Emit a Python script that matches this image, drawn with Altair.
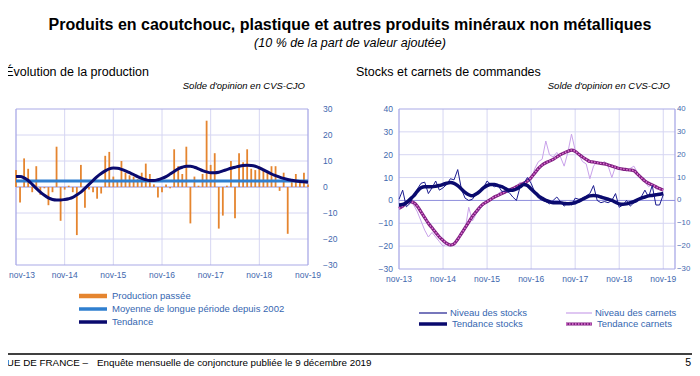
import altair as alt
import pandas as pd

# ---------------- data ----------------
months = list(range(73))  # nov-13 ... nov-19
x_labels = ["nov-13", "nov-14", "nov-15", "nov-16", "nov-17", "nov-18", "nov-19"]
x_label_months = [0, 12, 24, 36, 48, 60, 72]

left_ticks = [-30, -20, -10, 0, 10, 20, 30]
right_ticks = [-30, -20, -10, 0, 10, 20, 30, 40]

production = [6.5, -6, 11, 7, -2, 8, -3, -0.5, -7, -2, 15.5, -13, -1, 0.5, -2, -18.5,
              8.5, -8, -1, -2, -4.5, -2.5, 12, 13.5, 4, 2, 10, 5.5, 4.5, 4, 3, 5.5,
              9, 5, 1, -4, -2, 1, -0.5, 14.5, 8, 5, 15.5, -14, 4, 0.5, 5, 25.5,
              8.5, 13, -16, -11, 0.5, 10, -12, 13, 9.5, 14.5, 7, 6.5, 8, 7,
              6, 8, 8, -1.5, 5.5, -18, 2, 5, 2, 5.5, 1]
tendance_prod = [4, 4, 3.5, 2.5, 1, -0.5, -2, -3.2, -4.2, -4.8, -5, -5, -4.8, -4.5, -4, -3,
                 -2, -0.5, 1, 2.5, 4, 5.2, 6.2, 7, 7.3, 7.2, 6.8, 6.2, 5.5, 4.8, 4, 3.3,
                 2.8, 2.5, 2.5, 2.8, 3.3, 4, 5, 6, 7, 7.6, 8, 8, 7.6, 7, 6.3, 5.8,
                 5.5, 5.5, 5.7, 6.2, 6.7, 7.2, 7.6, 8, 8.3, 8.4, 8.3, 8, 7.4, 6.6,
                 5.8, 5, 4.4, 3.8, 3.3, 2.9, 2.6, 2.3, 2.1, 2, 1.8]
moyenne_longue = 2.3

niveau_stocks = [0.5, 4.5, -2.8, -1.3, 2, 5, 7.5, 8, 3, 5.5, 8.5, 4.5, 5.5, 7, 9.5, 9,
                 13.5, 5, 1, 0, 0.5, 3, 4, 5.5, 8.5, 7, 6, 6.5, 4, 4, 3.5, 1.5,
                 0, 6, 7.5, 10, 7.5, 3.5, 1, 0, -0.5, -1.5, 0, 1.5, -0.5, -2.5, -1, -2,
                 1, 0.5, 0.5, 2, 3, 6.5, 0, -1, -0.5, -1, 0, 3, -3, -2, 0, -2.5,
                 -1, -0.5, 1.5, 4.5, 1.5, 6.5, -2, -2, 2.5]
tendance_stocks = [-2, -1.8, -1, 0.5, 2, 4, 5.5, 6, 6, 6, 6.2, 6.5, 7, 7.5, 7.8, 7.5,
                   6.5, 5, 3.5, 2.5, 2, 2.8, 4, 5.5, 6.5, 7, 7, 6.5, 6, 5.2, 4.5, 4.5,
                   5, 6, 7, 6.5, 5, 3.5, 2, 1, 0, -0.5, -1, -1, -1, -1.3, -1.5, -1.3,
                   -1, -0.3, 0.5, 1.3, 2, 2.2, 2, 1.5, 1, 0.5, 0, -0.8, -1.5, -1.7,
                   -1.5, -1, -0.5, 0.3, 1, 1.5, 2, 2.2, 2.5, 2.7, 3]
niveau_carnets = [-4, -2.5, -1, -0.5, -2, -5, -9, -13, -16, -14, -16, -18, -20, -19, -20, -19.5,
                  -17, -14, -13, -3, -9, -6, -4, -2, 0, 1, 1, 3, 4, 3, 5, 4,
                  6, 8, 7, 10, 9, 14, 17, 18, 26, 20, 19, 21, 19, 15, 21, 29,
                  22, 20, 17, 16, 9.5, 15, 17, 16, 17, 15, 10, 15, 14, 13.5,
                  13, 14, 15, 12, 10, 8, 6, 7, 5, 5, 4]
tendance_carnets = [-3.5, -2.5, -1, -0.5, -1, -2.5, -5, -7.5, -10, -12, -14, -16, -17.5, -18.8, -19.5, -19,
                    -17, -14.5, -12, -9.5, -7, -5, -3, -1.5, -0.5, 0.5, 1.5, 2.2, 3, 3.8, 4.5, 5.2,
                    6, 6.8, 7.5, 8.5, 10, 12, 14, 15.5, 16.5, 17.2, 18, 19, 20, 20.8, 21.5, 22,
                    21.5, 20.2, 19, 18, 17, 16.8, 16.5, 16.2, 16, 15.5, 15, 14.5, 14, 13.7,
                    13.5, 13.3, 13, 11.5, 10, 8.5, 7.5, 6.8, 6, 5.2, 4.5]

# ---------------- styling ----------------
FONT = "Liberation Sans"
GRID = "#D6D6F2"
BORDER = "#A9A9E6"
ZERO = "#8E8EDC"
AXTXT = "#3F68AE"
ORANGE = "#E5852F"
MEANBLUE = "#2F7FCF"
NAVY = "#0A0A6E"
LILAC = "#C9A2EA"
PURPLE = "#7E1F80"
PINK = "#E27AD6"

LX = alt.Scale(domain=[0, 72], range=[8, 300], nice=False, zero=False)
LY = alt.Scale(domain=[-30, 30], range=[257, 101], nice=False, zero=False)
RX = alt.Scale(domain=[0, 75.2], range=[391, 667], nice=False, zero=False)
RY = alt.Scale(domain=[-30, 40], range=[261, 101], nice=False, zero=False)

left_df = pd.DataFrame({"m": months, "prod": production, "trend": tendance_prod,
                        "zero": [0] * len(months)})
right_df = pd.DataFrame({"m": months, "ns": niveau_stocks, "ts": tendance_stocks,
                         "nc": niveau_carnets, "tc": tendance_carnets})


def hgrid(ticks, x0, x1):
    return pd.DataFrame({"v": ticks, "x0": [x0] * len(ticks), "x1": [x1] * len(ticks)})


def vgrid(ms, y0, y1):
    return pd.DataFrame({"m": ms, "y0": [y0] * len(ms), "y1": [y1] * len(ms)})


def txt(s, x, y, size, align="left", color="black", weight="normal", style="normal"):
    return alt.Chart(pd.DataFrame({"t": [s]})).mark_text(
        align=align, baseline="middle", font=FONT, fontSize=size, color=color,
        fontWeight=weight, fontStyle=style
    ).encode(text="t:N", x=alt.value(x), y=alt.value(y))


def swatch(x0, x1, y, color, width, dash=None):
    kw = dict(color=color, strokeWidth=width)
    if dash:
        kw["strokeDash"] = dash
    return alt.Chart(pd.DataFrame({"a": [0]})).mark_rule(**kw).encode(
        x=alt.value(x0), x2=alt.value(x1), y=alt.value(y))


# ---------------- left panel ----------------
lx = lambda f: alt.X(f, scale=LX, axis=None)
ly = lambda f: alt.Y(f, scale=LY, axis=None)

l_hgrid = alt.Chart(hgrid([-20, -10, 10, 20], 0, 72)).mark_rule(color=GRID, strokeWidth=1).encode(
    y=ly("v:Q"), x=lx("x0:Q"), x2="x1:Q")
l_vgrid = alt.Chart(vgrid([12, 24, 36, 48, 60], -30, 30)).mark_rule(color=GRID, strokeWidth=1).encode(
    x=lx("m:Q"), y=ly("y0:Q"), y2="y1:Q")
l_border_h = alt.Chart(hgrid([-30, 30], 0, 72)).mark_rule(color=BORDER, strokeWidth=1).encode(
    y=ly("v:Q"), x=lx("x0:Q"), x2="x1:Q")
l_border_v = alt.Chart(vgrid([0, 72], -30, 30)).mark_rule(color=BORDER, strokeWidth=1.3).encode(
    x=lx("m:Q"), y=ly("y0:Q"), y2="y1:Q")
l_zero = alt.Chart(hgrid([0], 0, 72)).mark_rule(color=ZERO, strokeWidth=1).encode(
    y=ly("v:Q"), x=lx("x0:Q"), x2="x1:Q")
l_bars = alt.Chart(left_df).mark_rule(color=ORANGE, strokeWidth=1.8).encode(
    x=lx("m:Q"), y=ly("prod:Q"), y2="zero:Q")
l_mean = alt.Chart(hgrid([moyenne_longue], 0, 72)).mark_rule(color=MEANBLUE, strokeWidth=3).encode(
    y=ly("v:Q"), x=lx("x0:Q"), x2="x1:Q")
l_trend = alt.Chart(left_df).mark_line(color=NAVY, strokeWidth=3, interpolate="monotone").encode(
    x=lx("m:Q"), y=ly("trend:Q"))
l_xlab_first = alt.Chart(pd.DataFrame({"m": x_label_months[:1], "t": x_labels[:1]})).mark_text(
    font=FONT, fontSize=8.5, color=AXTXT, baseline="middle", align="left", dx=-7).encode(
    x=lx("m:Q"), y=alt.value(267), text="t:N")
l_xlab = alt.Chart(pd.DataFrame({"m": x_label_months[1:], "t": x_labels[1:]})).mark_text(
    font=FONT, fontSize=8.5, color=AXTXT, baseline="middle").encode(
    x=lx("m:Q"), y=alt.value(267), text="t:N")
l_rlab = alt.Chart(pd.DataFrame({"v": left_ticks})).mark_text(
    font=FONT, fontSize=8.5, color=AXTXT, baseline="middle", align="left").encode(
    y=ly("v:Q"), x=alt.value(315), text="v:Q")

left = alt.layer(l_hgrid, l_vgrid, l_border_h, l_border_v, l_zero, l_bars, l_mean,
                 l_trend, l_xlab_first, l_xlab, l_rlab)

# ---------------- right panel ----------------
rx = lambda f: alt.X(f, scale=RX, axis=None)
ry = lambda f: alt.Y(f, scale=RY, axis=None)

r_hgrid = alt.Chart(hgrid([-20, -10, 10, 20, 30], 0, 75.2)).mark_rule(color=GRID, strokeWidth=1).encode(
    y=ry("v:Q"), x=rx("x0:Q"), x2="x1:Q")
r_vgrid = alt.Chart(vgrid([12, 24, 36, 48, 60, 72], -30, 40)).mark_rule(color=GRID, strokeWidth=1).encode(
    x=rx("m:Q"), y=ry("y0:Q"), y2="y1:Q")
r_border_h = alt.Chart(hgrid([-30, 40], 0, 75.2)).mark_rule(color=BORDER, strokeWidth=1).encode(
    y=ry("v:Q"), x=rx("x0:Q"), x2="x1:Q")
r_border_v = alt.Chart(vgrid([0, 75.2], -30, 40)).mark_rule(color=BORDER, strokeWidth=1.3).encode(
    x=rx("m:Q"), y=ry("y0:Q"), y2="y1:Q")
r_zero = alt.Chart(hgrid([0], 0, 75.2)).mark_rule(color=ZERO, strokeWidth=1).encode(
    y=ry("v:Q"), x=rx("x0:Q"), x2="x1:Q")
r_nc = alt.Chart(right_df).mark_line(color=LILAC, strokeWidth=1).encode(x=rx("m:Q"), y=ry("nc:Q"))
r_tc = alt.Chart(right_df).mark_line(color=PURPLE, strokeWidth=3.2, interpolate="monotone").encode(
    x=rx("m:Q"), y=ry("tc:Q"))
r_tc2 = alt.Chart(right_df).mark_line(color=PINK, strokeWidth=1.4, strokeDash=[1.5, 1.5],
                                      interpolate="monotone").encode(x=rx("m:Q"), y=ry("tc:Q"))
r_ns = alt.Chart(right_df).mark_line(color="#1B1B8F", strokeWidth=1).encode(x=rx("m:Q"), y=ry("ns:Q"))
r_ts = alt.Chart(right_df).mark_line(color=NAVY, strokeWidth=3.5, interpolate="monotone").encode(
    x=rx("m:Q"), y=ry("ts:Q"))
r_xlab = alt.Chart(pd.DataFrame({"m": x_label_months, "t": x_labels})).mark_text(
    font=FONT, fontSize=8.5, color=AXTXT, baseline="middle").encode(
    x=rx("m:Q"), y=alt.value(271), text="t:N")
r_llab = alt.Chart(pd.DataFrame({"v": right_ticks})).mark_text(
    font=FONT, fontSize=8.5, color=AXTXT, baseline="middle", align="right").encode(
    y=ry("v:Q"), x=alt.value(385), text="v:Q")
r_rlab = alt.Chart(pd.DataFrame({"v": right_ticks})).mark_text(
    font=FONT, fontSize=7.8, color=AXTXT, baseline="middle", align="left").encode(
    y=ry("v:Q"), x=alt.value(669), text="v:Q")

right = alt.layer(r_hgrid, r_vgrid, r_border_h, r_border_v, r_zero, r_nc, r_tc, r_tc2,
                  r_ns, r_ts, r_xlab, r_llab, r_rlab)

# ---------------- texts, legends, footer ----------------
LEG = "#3566B0"
texts = alt.layer(
    txt("Produits en caoutchouc, plastique et autres produits minéraux non métalliques",
        342, 17, 16, align="center", weight="bold"),
    txt("(10 % de la part de valeur ajoutée)", 342, 35, 12.5, align="center", style="italic"),
    txt("Évolution de la production", 141, 64, 12.5, align="right"),
    txt("Solde d'opinion en CVS-CJO", 297, 78, 9.5, align="right", style="italic"),
    txt("Stocks et carnets de commandes", 348, 64, 12.5),
    txt("Solde d'opinion en CVS-CJO", 662, 78, 9.5, align="right", style="italic"),
    swatch(71, 99, 288, ORANGE, 4.5),
    swatch(71, 99, 301, MEANBLUE, 3.5),
    swatch(71, 99, 314, NAVY, 3.5),
    txt("Production passée", 104, 288, 9.5, color=LEG),
    txt("Moyenne de longue période depuis 2002", 104, 301, 9.5, color=LEG),
    txt("Tendance", 104, 314, 9.5, color=LEG),
    swatch(411, 439, 305, "#1B1B8F", 1.2),
    swatch(411, 439, 316, NAVY, 3.5),
    swatch(558, 584, 305, LILAC, 1.2),
    swatch(558, 584, 316, PURPLE, 3),
    swatch(558, 584, 316, PINK, 1.3, dash=[1.5, 1.5]),
    txt("Niveau des stocks", 442, 305, 9.5, color=LEG),
    txt("Tendance stocks", 444, 316, 9.5, color=LEG),
    txt("Niveau des carnets", 587, 305, 9.5, color=LEG),
    txt("Tendance carnets", 589, 316, 9.5, color=LEG),
    alt.Chart(pd.DataFrame({"a": [0]})).mark_rule(color="black", strokeWidth=1.5).encode(
        x=alt.value(0), x2=alt.value(684), y=alt.value(346)),
    txt("BANQUE DE FRANCE –", 80, 355, 9.8, align="right"),
    txt("Enquête mensuelle de conjoncture publiée le 9 décembre 2019", 89, 355, 9.8),
    txt("5", 683, 355, 10.5, align="right"),
)

chart = alt.layer(left, right, texts).resolve_scale(x="independent", y="independent").properties(
    width=684, height=360, autosize=alt.AutoSizeParams(type="none"), padding=0
).configure_view(strokeWidth=0)

chart.save("out.html", embed_options={"renderer": "svg", "actions": False})
